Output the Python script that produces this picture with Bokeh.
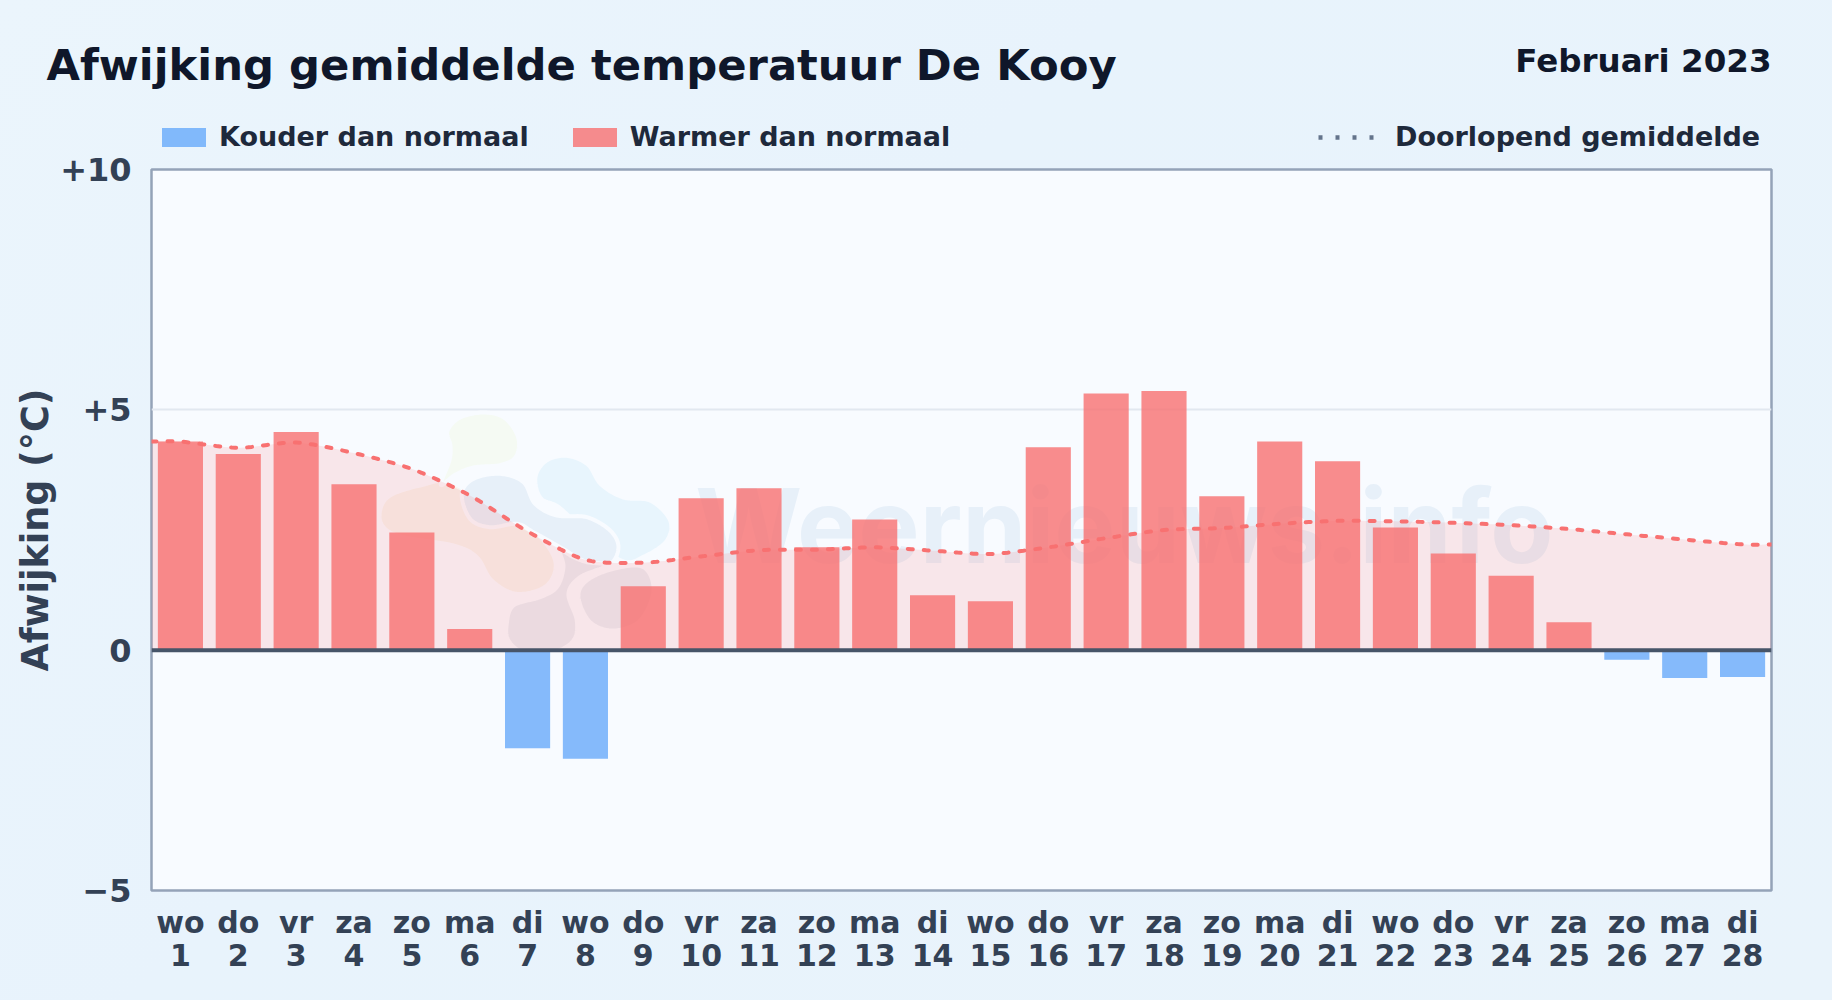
import numpy as np
from bokeh.core.properties import value
from bokeh.embed import file_html
from bokeh.models import (ColumnDataSource, FixedTicker, Label, Legend, LegendItem,
                          Range1d, Span)
from bokeh.plotting import figure
from bokeh.resources import INLINE

# ---- data -------------------------------------------------------------
days = list(range(1, 29))
weekdays = ["wo", "do", "vr", "za", "zo", "ma", "di"] * 4
deviation = [4.34, 4.08, 4.54, 3.45, 2.45, 0.44, -2.04, -2.26, 1.33, 3.16, 3.37, 2.14, 2.72, 1.14,
             1.02, 4.22, 5.34, 5.39, 3.20, 4.34, 3.93, 2.55, 2.01, 1.55, 0.58, -0.20, -0.58, -0.56]
running_mean = [4.34, 4.21, 4.32, 4.10, 3.77, 3.22, 2.47, 1.88, 1.82, 1.95, 2.08, 2.09, 2.14, 2.07,
                2.00, 2.14, 2.33, 2.50, 2.54, 2.63, 2.69, 2.68, 2.65, 2.60, 2.52, 2.41, 2.30, 2.20]
y_ticks = [-5, 0, 5, 10]
y_tick_labels = ["\u22125", "0", "+5", "+10"]
title_text = "Afwijking gemiddelde temperatuur De Kooy"
date_text = "Februari 2023"
legend_labels = ["Kouder dan normaal", "Warmer dan normaal", "Doorlopend gemiddelde"]

# ---- layout -----------------------------------------------------------
W, H = 1832, 1000
L, R, T, B = 151.5, 1771, 169, 890
HDR = 165
X0, X1 = 0.5, 28.5
Y0, Y1 = -5, 10


def px_x(px):
    return X0 + (np.asarray(px, float) - L) / (R - L) * (X1 - X0)


def px_y(py):
    return Y0 + (B - np.asarray(py, float)) / (B - T) * (Y1 - Y0)


def cardinal(x, y, closed=False, n=16, t=0.5):
    """Smooth curve through the given points (drawing only)."""
    x, y = np.asarray(x, float), np.asarray(y, float)
    if closed:
        xp = np.r_[x[-1], x, x[0], x[1]]
        yp = np.r_[y[-1], y, y[0], y[1]]
    else:
        xp = np.r_[x[0], x, x[-1]]
        yp = np.r_[y[0], y, y[-1]]
    u = np.linspace(0, 1, n, endpoint=False)[:, None]
    h00, h10, h01, h11 = 2*u**3-3*u**2+1, u**3-2*u**2+u, -2*u**3+3*u**2, u**3-u**2
    xs, ys = [], []
    for i in range(1, len(xp) - 2):
        xs.append((h00*xp[i] + h10*t*(xp[i+1]-xp[i-1]) + h01*xp[i+1] + h11*t*(xp[i+2]-xp[i])).ravel())
        ys.append((h00*yp[i] + h10*t*(yp[i+1]-yp[i-1]) + h01*yp[i+1] + h11*t*(yp[i+2]-yp[i])).ravel())
    return np.r_[np.concatenate(xs), xp[-2]], np.r_[np.concatenate(ys), yp[-2]]


# ---- header strip: title, date and legends -------------------------------
hdr = figure(width=W, height=HDR, output_backend="svg", toolbar_location=None,
             x_range=Range1d(0, W), y_range=Range1d(HDR, 0), x_axis_location=None, y_axis_location=None,
             min_border=0, outline_line_color=None)
hdr.styles = {"position": "absolute", "left": "0", "top": "0"}
hdr.border_fill_color = None
hdr.background_fill_color = None
hdr.grid.visible = False
nan = float("nan")
key_cold = hdr.vbar([nan], 0.78, 0, [nan], fill_color="#60a5fa", fill_alpha=0.76, line_color=None)
key_warm = hdr.vbar([nan], 0.78, 0, [nan], fill_color="#f87171", fill_alpha=0.8, line_color=None)
key_line = hdr.line([nan, nan], [nan, nan], line_color="#64748b", line_width=4.5, line_dash="4 13")


def make_legend(items, loc, gw, gh, standoff, gap):
    hdr.add_layout(Legend(items=items, location=loc, orientation="horizontal", glyph_width=gw, glyph_height=gh,
                          label_text_font="DejaVu Sans", label_text_font_style="bold", label_text_font_size="27px",
                          label_text_color="#1e293b", label_standoff=standoff, spacing=gap, margin=0, padding=0,
                          background_fill_alpha=0, border_line_color=None), "center")


make_legend([LegendItem(label=legend_labels[0], renderers=[key_cold]),
             LegendItem(label=legend_labels[1], renderers=[key_warm])], (156, 13), 55, 24, 8, 38)
make_legend([LegendItem(label=legend_labels[2], renderers=[key_line])], (1318, 13), 57, 24, 20, 0)

hdr.add_layout(Label(x=46, y=64, text=title_text, text_font="DejaVu Sans", text_font_style="bold",
                     text_font_size="43.3px", text_color="#0f172a", text_baseline="middle"))
hdr.add_layout(Label(x=R, y=60, text=date_text, text_font="DejaVu Sans", text_font_style="bold",
                     text_font_size="32.5px", text_color="#0f172a", text_align="right", text_baseline="middle"))

# ---- chart -----------------------------------------------------------------
p = figure(width=W, height=H, output_backend="svg", toolbar_location=None,
           x_range=Range1d(X0, X1), y_range=Range1d(Y0, Y1),
           min_border_left=int(L), min_border_right=int(W - R), min_border_top=T, min_border_bottom=H - B)
p.styles = {"position": "absolute", "left": "0", "top": "0",
            "background": "linear-gradient(135deg,#ebf5fc 0%,#e8f3fc 40%,#e9f3fb 100%)"}
p.border_fill_color = None
p.background_fill_color = "#f8fbff"
p.outline_line_color = "#94a3b8"
p.outline_line_width = 2.5

# ---- watermark (decorative, under the data) ---------------------------
ox, oy = 360, 390
blobs = [
    ("#f7f4ee", [(60,360),(90,315),(180,285),(270,275),(400,350),(520,420),(585,510),(560,585),(470,610),(395,570),(350,500),(280,465),(130,440),(70,410)]),
    ("#f5faf3", [(262,122),(298,82),(370,66),(433,82),(474,140),(468,198),(422,223),(340,231),(285,253),(242,283),(268,210),(271,165)]),
    ("#e8f5fd", [(526,260),(558,211),(620,196),(683,222),(723,282),(790,321),(872,331),(930,390),(919,452),(852,498),(790,513),(700,450),(600,353),(542,323)]),
    ("#e7f0f9", [(305,310),(340,265),(420,250),(490,275),(525,340),(590,375),(680,380),(750,420),(775,470),(750,520),(680,515),(600,470),(520,425),(470,400),(390,410),(330,385)]),
    ("#e9edf4", [(440,700),(460,645),(540,620),(590,590),(610,530),(600,480),(640,500),(680,515),(740,525),(660,560),(625,610),(650,690),(640,750),(580,785),(490,785),(445,750)]),
    ("#e9edf4", [(655,620),(680,570),(760,535),(850,530),(880,600),(840,690),(760,720),(690,695)]),
]
for colour, pts in blobs:
    bx = [ox + a / 3 for a, b in pts]
    by = [oy + b / 3 for a, b in pts]
    sx, sy = cardinal(bx, by, closed=True)
    p.patch(px_x(sx), px_y(sy), fill_color=colour, line_color="#f8fbff", line_width=4)

p.text(x=[float(px_x(695))], y=[float(px_y(525))], text=["Weernieuws.info"],
       text_font=value("Inter"), text_font_style="bold", text_font_size="103px",
       text_color="#e7f0f9", text_baseline="alphabetic", text_align="left")

# ---- running mean area + bars + line -----------------------------------
cx, cy = cardinal([X0] + days + [X1], [running_mean[0]] + running_mean + [running_mean[-1]], t=0.4)
p.varea(cx, np.zeros_like(cy), cy, fill_color="#f87171", fill_alpha=0.15)

warm = ColumnDataSource(dict(x=[d for d, v in zip(days, deviation) if v >= 0],
                             top=[v for v in deviation if v >= 0]))
cold = ColumnDataSource(dict(x=[d for d, v in zip(days, deviation) if v < 0],
                             top=[v for v in deviation if v < 0]))
p.vbar("x", 0.78, 0, "top", source=cold, fill_color="#60a5fa", fill_alpha=0.76, line_color=None)
p.vbar("x", 0.78, 0, "top", source=warm, fill_color="#f87171", fill_alpha=0.8, line_color=None)

p.line(cx, cy, line_color="#f87171", line_width=4, line_dash="5 11", line_cap="round")

p.add_layout(Span(location=0, dimension="width", line_color="#475569", line_width=4))

# ---- axes ---------------------------------------------------------------
p.xaxis.ticker = FixedTicker(ticks=days)
p.xaxis.major_label_overrides = {d: f"{w}\n{d}" for d, w in zip(days, weekdays)}
p.xaxis.major_label_text_font = "DejaVu Sans"
p.xaxis.major_label_text_font_style = "bold"
p.xaxis.major_label_text_font_size = "30px"
p.xaxis.major_label_text_line_height = 0.95
p.xaxis.major_label_text_color = "#334155"
p.xaxis.major_label_standoff = 8
p.yaxis.ticker = FixedTicker(ticks=y_ticks)
p.yaxis.major_label_overrides = dict(zip(y_ticks, y_tick_labels))
p.yaxis.major_label_text_font = "DejaVu Sans"
p.yaxis.major_label_text_font_style = "bold"
p.yaxis.major_label_text_font_size = "32px"
p.yaxis.major_label_text_color = "#334155"
p.yaxis.major_label_standoff = 14
p.yaxis.axis_label = "Afwijking (\u00b0C)"
p.yaxis.axis_label_text_font = "DejaVu Sans"
p.yaxis.axis_label_text_font_style = "bold"
p.yaxis.axis_label_text_font_size = "36.5px"
p.yaxis.axis_label_text_color = "#334155"
p.yaxis.axis_label_standoff = 0
for ax in (p.xaxis, p.yaxis):
    ax.axis_line_color = None
    ax.major_tick_line_color = None
    ax.minor_tick_line_color = None
p.xgrid.visible = False
p.ygrid.ticker = FixedTicker(ticks=[5])
p.ygrid.grid_line_color = "#e2e8f0"
p.ygrid.grid_line_width = 2

open("out.html", "w").write(file_html([p, hdr], INLINE))
